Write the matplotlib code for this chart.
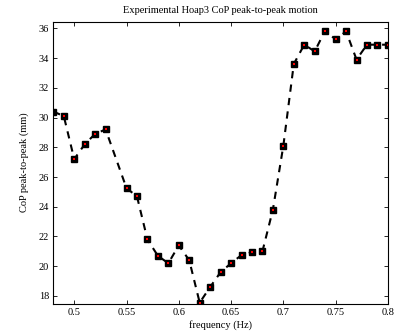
import matplotlib
matplotlib.use("Agg")
import matplotlib.pyplot as plt

# frequency (Hz) and measured CoP peak-to-peak (mm)
freq = [0.48, 0.49, 0.50, 0.51, 0.52, 0.53, 0.55, 0.56, 0.57, 0.58, 0.59,
        0.60, 0.61, 0.62, 0.63, 0.64, 0.65, 0.66, 0.67, 0.68, 0.69, 0.70,
        0.71, 0.72, 0.73, 0.74, 0.75, 0.76, 0.77, 0.78, 0.79, 0.80]
cop = [30.4, 30.1, 27.2, 28.2, 28.9, 29.2, 25.25, 24.7, 21.8, 20.7, 20.2,
       21.4, 20.4, 17.55, 18.6, 19.6, 20.2, 20.75, 20.95, 21.0, 23.8, 28.1,
       33.6, 34.9, 34.45, 35.85, 35.25, 35.8, 33.9, 34.9, 34.9, 34.9]

xticks = [0.5, 0.55, 0.6, 0.65, 0.7, 0.75, 0.8]
xticklabels = ['0.5', '0.55', '0.6', '0.65', '0.7', '0.75', '0.8']
yticks = list(range(18, 37, 2))

plt.rcParams['font.family'] = ['Liberation Serif', 'DejaVu Serif']
plt.rcParams['font.size'] = 7.5

fig = plt.figure(figsize=(3.95, 3.33), dpi=100)
ax = fig.add_axes([0.135, 0.088, 0.847, 0.847])

ax.plot(freq, cop, '--', color='black', lw=1.5, dashes=(3.5, 3))
ax.plot(freq, cop, 's', color='black', ms=4.6, ls='none')
ax.plot(freq, cop, 's', color='red', ms=1.5, ls='none', mew=0)

ax.set_xlim(0.48, 0.8)
ax.set_ylim(17.48, 36.45)
ax.set_xticks(xticks)
ax.set_xticklabels(xticklabels)
ax.set_yticks(yticks)
ax.tick_params(direction='in', top=True, right=True, length=3, width=0.6, pad=3)
for s in ax.spines.values():
    s.set_linewidth(0.8)

ax.set_title('Experimental Hoap3 CoP peak-to-peak motion', fontsize=7.5, pad=6)
ax.set_xlabel('frequency (Hz)', fontsize=7.5, labelpad=2)
ax.set_ylabel('CoP peak-to-peak (mm)', fontsize=7.5, labelpad=7)

fig.savefig('out.png', dpi=100)
